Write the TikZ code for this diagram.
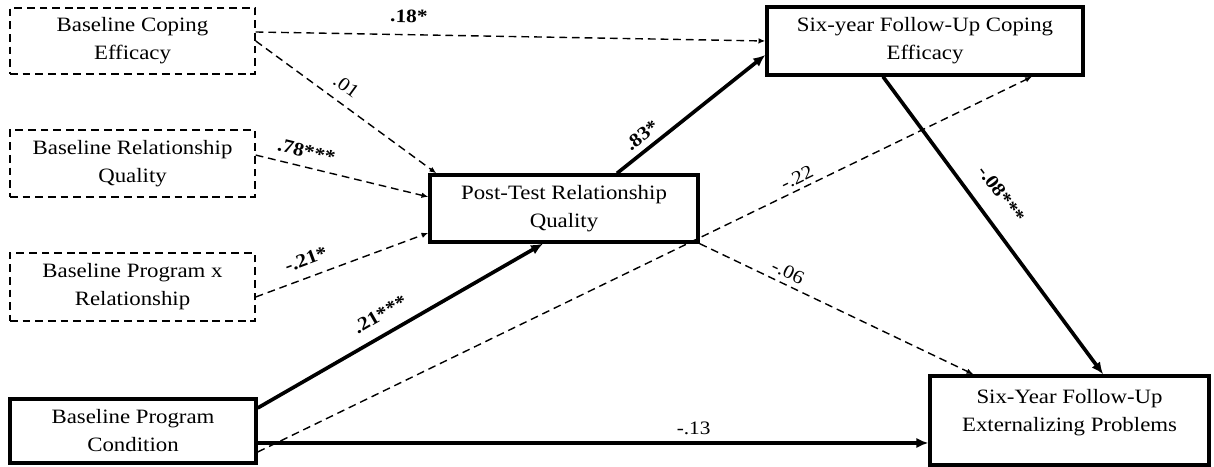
\documentclass[tikz,border=0pt]{standalone}
\usepackage{fontspec}
\setmainfont{Liberation Serif}[FakeStretch=1.12]
\usetikzlibrary{arrows.meta}
\tikzset{
  obsbox/.style={draw=black, line width=2.4pt, align=center, inner sep=0pt, font=\fontsize{14.5}{19.9}\selectfont},
  basebox/.style={draw=black, line width=1pt, dash pattern=on 5.5pt off 3.5pt, align=center, inner sep=0pt, font=\fontsize{14.5}{19.9}\selectfont},
  sigpath/.style={line width=2.6pt, -{Latex[length=0.3cm,width=0.26cm]}},
  nspath/.style={line width=1pt, dash pattern=on 5.5pt off 3.5pt, -{Latex[length=0.17cm,width=0.14cm]}},
  coef/.style={sloped, inner sep=1pt, font=\fontsize{13.5}{15}\selectfont},
  sigcoef/.style={sloped, inner sep=1pt, font=\bfseries\fontsize{13.5}{15}\selectfont},
}
\begin{document}
\begin{tikzpicture}
\useasboundingbox (0,0) rectangle (30.35,11.675);
\node[basebox, minimum width=6.125cm, minimum height=1.65cm] (bce) at (3.313,10.650) {Baseline Coping\\Efficacy};
\node[basebox, minimum width=6.125cm, minimum height=1.675cm] (brq) at (3.313,7.588) {Baseline Relationship\\Quality};
\node[basebox, minimum width=6.125cm, minimum height=1.7cm] (bpr) at (3.313,4.500) {Baseline Program x\\Relationship};
\node[obsbox, minimum width=6.15cm, minimum height=1.6cm] (bpc) at (3.325,0.900) {Baseline Program\\Condition};
\node[obsbox, minimum width=6.7cm, minimum height=1.675cm] (ptr) at (14.100,6.463) {Post-Test Relationship\\Quality};
\node[obsbox, minimum width=7.9cm, minimum height=1.7cm] (sfc) at (23.125,10.650) {Six-year Follow-Up Coping\\Efficacy};
\node[obsbox, minimum width=6.975cm, minimum height=2.225cm, text depth=0.49cm] (sfe) at (26.738,1.163) {Six-Year Follow-Up\\Externalizing Problems};
\draw[nspath] ([yshift=0.225cm]bce.east) -- node[sigcoef, pos=0.30, above=0.25cm] {.18*} (sfc.west);
\draw[nspath] (bce.east) -- node[coef, pos=0.446, above=0.21cm] {.01} ([xshift=0.2cm]ptr.north west);
\draw[nspath] ([yshift=0.21cm]brq.east) -- node[sigcoef, pos=0.273, above=0.17cm] {.78***} ([yshift=0.29cm]ptr.west);
\draw[nspath] ([yshift=-0.25cm]bpr.east) -- node[sigcoef, pos=0.327, above=0.23cm] {-.21*} ([yshift=-0.61cm]ptr.west);
\draw[sigpath] ([yshift=0.575cm]bpc.east) -- node[sigcoef, pos=0.464, above=0.26cm] {.21***} ([xshift=-0.525cm]ptr.south);
\draw[nspath] ([yshift=-0.525cm]bpc.east) -- node[coef, pos=0.703, above=0.08cm] {-.22} ([xshift=2.675cm]sfc.south);
\coordinate (c13) at ([yshift=-0.3cm]bpc.east);
\draw[sigpath] (c13) -- node[coef, pos=0.65, above=0.13cm] {-.13} (c13 -| sfe.west);
\draw[sigpath] ([xshift=1.325cm]ptr.north) -- node[sigcoef, pos=0.227, above=0.11cm] {.83*} ([yshift=-0.35cm]sfc.west);
\draw[nspath] (ptr.south east) -- node[coef, pos=0.303, above=0.10cm] {-.06} ([xshift=1.125cm]sfe.north west);
\draw[sigpath] ([xshift=-1.05cm]sfc.south) -- node[sigcoef, pos=0.445, above=0.39cm] {-.08***} ([xshift=0.84cm]sfe.north);
\end{tikzpicture}
\end{document}
